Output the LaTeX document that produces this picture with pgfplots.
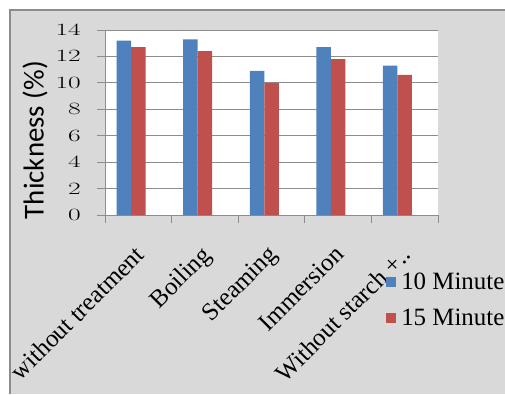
\documentclass[border=0pt]{standalone}
\usepackage{fontspec}
\setmainfont{Liberation Serif}
\newfontfamily\calibri{Carlito}
\usepackage{pgfplots}
\pgfplotsset{compat=1.18}
\definecolor{bgray}{HTML}{D9D9D9}
\definecolor{xblue}{HTML}{4F81BD}
\definecolor{xred}{HTML}{C0504D}
\definecolor{gline}{HTML}{8C8C8C}
\begin{document}
\begin{tikzpicture}[x=1bp,y=1bp]
\path[use as bounding box] (0,0) rectangle (505,394);
\clip (0,0) rectangle (505,394);
\fill[bgray] (10,0) rectangle (505,384);
\draw[gline, line width=2bp] (10,0) -- (10,384) -- (505,384);
\begin{axis}[at={(105bp,179bp)}, anchor=south west,
  width=333bp, height=185bp, scale only axis,
  axis background/.style={fill=white},
  xmin=-0.5, xmax=4.5, ymin=0, ymax=14,
  ytick={0,2,4,6,8,10,12,14},
  ymajorgrids, grid style={gline, line width=0.9bp},
  axis x line*=bottom, axis y line*=left,
  axis line style={gline, line width=0.9bp, -},
  xtick={-0.5,0.5,1.5,2.5,3.5,4.5}, xticklabels={},
  tick style={gline, line width=0.9bp}, major tick length=8bp, tick align=outside,
  extra x ticks={0,1,2,3,4},
  extra x tick labels={without treatment, Boiling, Steaming, Immersion, Without starch +..},
  extra x tick style={major tick length=0pt, grid=none,
    tick label style={rotate=45, anchor=north east, xshift=-24bp, yshift=-17bp, inner sep=0pt,
    font=\fontsize{25}{27}\selectfont}},
  yticklabel={\scalebox{1.6}[1]{\pgfmathprintnumber{\tick}}},
  yticklabel style={font=\fontsize{19}{21}\selectfont, anchor=east, inner sep=0pt, xshift=-16bp},
  ylabel={Thickness (\%)},
  ylabel style={font=\calibri\fontsize{29}{32}\selectfont, at={(axis description cs:-0.21,0.405)}, anchor=center, rotate=0},
  ybar, bar width=14.5bp,
  legend style={at={(axis description cs:0.844,-0.30)}, anchor=north west, draw=none, fill=none,
    font=\fontsize{25}{27}\selectfont, row sep=14bp, inner sep=0pt,
    nodes={inner xsep=5bp}},
  legend cell align=left,
  legend image code/.code={\fill[#1,/tikz/.cd] (0bp,-5bp) rectangle (10bp,5bp);},
]
\addplot[fill=xblue, draw=none, bar shift=-14.5bp] coordinates {(0,13.2) (1,13.3) (2,10.9) (3,12.7) (4,11.3)};
\addplot[fill=xred, draw=none, bar shift=0bp] coordinates {(0,12.7) (1,12.4) (2,10.0) (3,11.8) (4,10.6)};
\legend{10 Minute, 15 Minute}
\end{axis}
\end{tikzpicture}
\end{document}
